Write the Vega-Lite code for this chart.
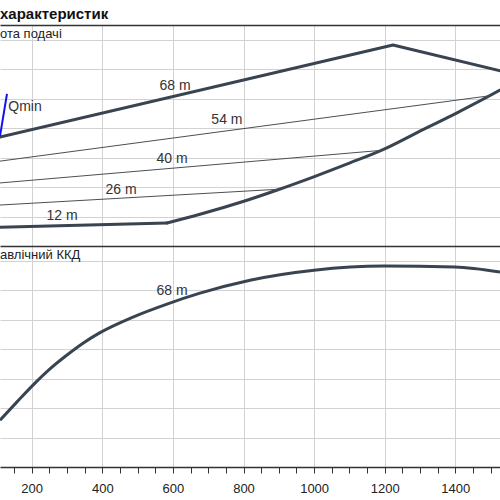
{
  "$schema": "https://vega.github.io/schema/vega-lite/v6.json",
  "padding": {"top": 7, "left": 0, "right": 0, "bottom": 0},
  "spacing": 0,
  "background": "white",
  "title": {"text": "характеристик", "anchor": "start", "font": "Liberation Sans", "fontSize": 15, "fontWeight": "bold", "color": "#111", "offset": 3},
  "config": {"view": {"stroke": null}, "font": "Liberation Sans"},
  "datasets": {
    "low": [
      {"q": 583.3, "h": 7.8},
      {"q": 676.8, "h": 10.76},
      {"q": 798.6, "h": 15.1},
      {"q": 897.7, "h": 19.1},
      {"q": 997, "h": 23.4},
      {"q": 1101.7, "h": 28.2},
      {"q": 1195.2, "h": 32.7},
      {"q": 1308.5, "h": 39.5},
      {"q": 1404.8, "h": 45.2},
      {"q": 1526.6, "h": 52.9},
      {"q": 1594, "h": 57.5}
    ],
    "env": [
      {"q": 110.2, "h": 6.4, "o": 1},
      {"q": 583.3, "h": 7.8, "o": 2},
      {"q": 1594, "h": 57.5, "o": 3},
      {"q": 1223.5, "h": 68.2, "o": 4},
      {"q": 110.2, "h": 37.0, "o": 5}
    ],
    "thin": [
      {"s": "54", "q": 110.2, "h": 28.8},
      {"s": "54", "q": 1498, "h": 51.0},
      {"s": "40", "q": 110.2, "h": 21.4},
      {"s": "40", "q": 1195, "h": 32.5},
      {"s": "26", "q": 110.2, "h": 13.9},
      {"s": "26", "q": 905, "h": 19.3}
    ],
    "qmin": [
      {"q": 110.2, "h": 37.3},
      {"q": 130, "h": 51.6}
    ],
    "ltop": [
      {"t": "68 m", "q": 606, "h": 54.3},
      {"t": "54 m", "q": 753, "h": 42.8},
      {"t": "40 m", "q": 597.5, "h": 29.5},
      {"t": "26 m", "q": 452.9, "h": 19.0},
      {"t": "12 m", "q": 285.8, "h": 10.2},
      {"t": "Qmin", "q": 181, "h": 47.2}
    ],
    "eff": [
      {"q": 110.2, "e": 15.9},
      {"q": 158.4, "e": 22.1},
      {"q": 203.7, "e": 27.8},
      {"q": 251.8, "e": 33.3},
      {"q": 300, "e": 38.0},
      {"q": 345.3, "e": 42.0},
      {"q": 393.5, "e": 45.6},
      {"q": 487, "e": 50.9},
      {"q": 583.3, "e": 55.3},
      {"q": 676.8, "e": 59.0},
      {"q": 818.4, "e": 63.4},
      {"q": 1000, "e": 66.8},
      {"q": 1198, "e": 68.2},
      {"q": 1399, "e": 67.9},
      {"q": 1526.6, "e": 66.2}
    ],
    "lbot": [
      {"t": "68 m", "q": 597.5, "e": 59.7}
    ]
  },
  "vconcat": [
    {
      "width": 500,
      "height": 221,
      "title": {"text": "ота подачі", "anchor": "start", "offset": -16, "fontSize": 13, "fontWeight": "normal", "font": "Liberation Sans", "color": "#222"},
      "resolve": {"axis": {"x": "independent", "y": "independent"}},
      "layer": [
        {
          "data": {"name": "env"},
          "transform": [{"filter": "datum.o <= 2"}],
          "mark": {"type": "line", "color": "#38444f", "strokeWidth": 3, "clip": true, "strokeCap": "round", "strokeJoin": "round"},
          "encoding": {
            "x": {"field": "q", "type": "quantitative", "scale": {"domain": [110.2, 1526.6], "nice": false, "zero": false},
              "axis": {"orient": "top", "title": null, "values": [200,400,600,800,1000,1200,1400],
                "labels": false, "ticks": false, "domain": true, "domainColor": "#333", "domainWidth": 1.5,
                "grid": true, "gridColor": "#d2d2d2", "gridWidth": 1}},
            "y": {"field": "h", "type": "quantitative", "scale": {"domain": [0, 75], "nice": false, "zero": false},
              "axis": {"orient": "left", "title": null, "values": [10,30,50,70], "labels": false, "ticks": false, "domain": false, "grid": true, "gridColor": "#d2d2d2", "gridWidth": 1}},
            "order": {"field": "o", "type": "quantitative"}
          }
        },
        {
          "data": {"name": "env"},
          "transform": [{"filter": "datum.o >= 3"}],
          "mark": {"type": "line", "color": "#38444f", "strokeWidth": 3, "clip": true, "strokeCap": "round", "strokeJoin": "round"},
          "encoding": {
            "x": {"field": "q", "type": "quantitative", "axis": null},
            "y": {"field": "h", "type": "quantitative",
              "axis": {"orient": "right", "title": null, "values": [20,40,60], "labels": false, "ticks": false, "domain": false, "grid": true, "gridColor": "#d2d2d2", "gridWidth": 1}},
            "order": {"field": "o", "type": "quantitative"}
          }
        },
        {
          "data": {"name": "low"},
          "mark": {"type": "line", "color": "#38444f", "strokeWidth": 3, "clip": true, "interpolate": "monotone", "strokeCap": "round"},
          "encoding": {
            "x": {"field": "q", "type": "quantitative", "axis": null},
            "y": {"field": "h", "type": "quantitative", "axis": null}
          }
        },
        {
          "data": {"name": "thin"},
          "mark": {"type": "line", "color": "#4a4f55", "strokeWidth": 1, "clip": true},
          "encoding": {
            "x": {"field": "q", "type": "quantitative", "axis": null},
            "y": {"field": "h", "type": "quantitative", "axis": null},
            "detail": {"field": "s"}
          }
        },
        {
          "data": {"name": "qmin"},
          "mark": {"type": "line", "color": "#1010f0", "strokeWidth": 2, "clip": true},
          "encoding": {
            "x": {"field": "q", "type": "quantitative", "axis": null},
            "y": {"field": "h", "type": "quantitative", "axis": null}
          }
        },
        {
          "data": {"name": "ltop"},
          "mark": {"type": "text", "fontSize": 14, "font": "Liberation Sans", "color": "#333", "align": "center", "baseline": "middle"},
          "encoding": {
            "x": {"field": "q", "type": "quantitative", "axis": null},
            "y": {"field": "h", "type": "quantitative", "axis": null},
            "text": {"field": "t"}
          }
        }
      ]
    },
    {
      "width": 500,
      "height": 221,
      "title": {"text": "авлічний ККД", "anchor": "start", "offset": -16, "fontSize": 13, "fontWeight": "normal", "font": "Liberation Sans", "color": "#222"},
      "resolve": {"axis": {"x": "independent", "y": "independent"}},
      "layer": [
        {
          "data": {"name": "eff"},
          "mark": {"type": "line", "color": "#38444f", "strokeWidth": 3, "clip": true, "interpolate": "monotone"},
          "encoding": {
            "x": {"field": "q", "type": "quantitative", "scale": {"domain": [110.2, 1526.6], "nice": false, "zero": false},
              "axis": {"orient": "bottom", "title": null, "tickCount": 100, "values": [150,200,250,300,350,400,450,500,550,600,650,700,750,800,850,900,950,1000,1050,1100,1150,1200,1250,1300,1350,1400,1450,1500],
                "format": "d", "labelExpr": "datum.value % 200 === 0 ? datum.label : ''", "labelOverlap": false,
                "labelFont": "Liberation Sans", "labelFontSize": 13, "labelColor": "#222", "labelPadding": 9,
                "ticks": true, "tickSize": 6, "tickColor": "#333", "tickWidth": 1,
                "domain": true, "domainColor": "#333", "domainWidth": 1.5, "grid": false}},
            "y": {"field": "e", "type": "quantitative", "scale": {"domain": [0, 75], "nice": false, "zero": false},
              "axis": {"orient": "left", "title": null, "values": [10,30,50,70], "labels": false, "ticks": false, "domain": false, "grid": true, "gridColor": "#d2d2d2", "gridWidth": 1}}
          }
        },
        {
          "data": {"name": "lbot"},
          "mark": {"type": "text", "fontSize": 14, "font": "Liberation Sans", "color": "#333", "align": "center", "baseline": "middle"},
          "encoding": {
            "x": {"field": "q", "type": "quantitative",
              "axis": {"orient": "top", "title": null, "values": [200,400,600,800,1000,1200,1400],
                "labels": false, "ticks": false, "domain": true, "domainColor": "#333", "domainWidth": 1.5,
                "grid": true, "gridColor": "#d2d2d2", "gridWidth": 1}},
            "y": {"field": "e", "type": "quantitative",
              "axis": {"orient": "right", "title": null, "values": [20,40,60], "labels": false, "ticks": false, "domain": false, "grid": true, "gridColor": "#d2d2d2", "gridWidth": 1}},
            "text": {"field": "t"}
          }
        }
      ]
    }
  ]
}
